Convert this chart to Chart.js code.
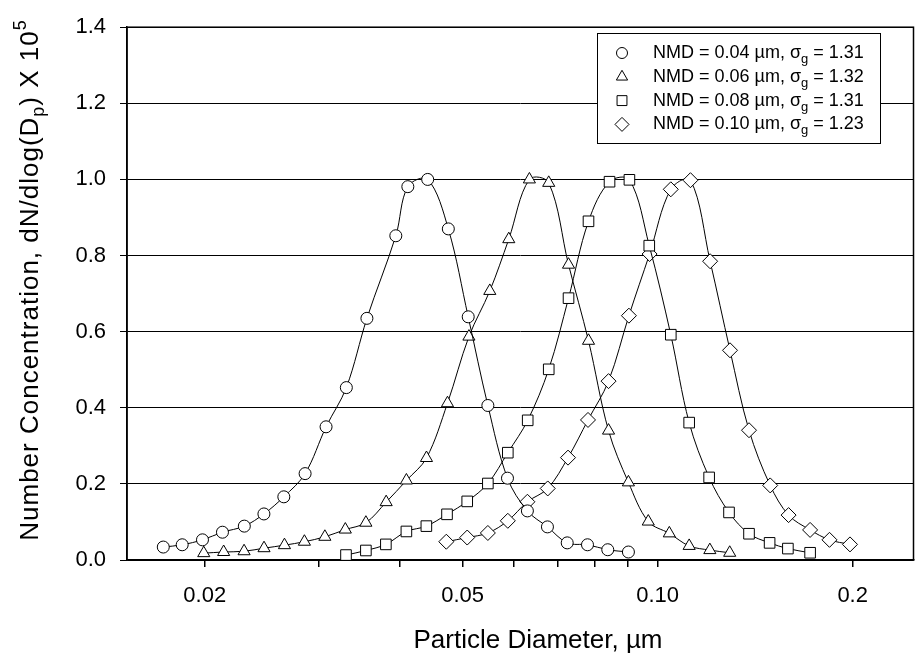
<!DOCTYPE html>
<html><head><meta charset="utf-8">
<script src="https://cdn.jsdelivr.net/npm/chart.js@4/dist/chart.umd.min.js"></script>
<style>html,body{margin:0;padding:0;background:#fff}canvas{display:block}</style>
</head><body>
<canvas id="c" width="922" height="654"></canvas>
<script>
// ---- data ----
const circDiam = [0.01726,0.01846,0.01984,0.02130,0.02302,0.02468,0.02649,0.02857,0.03078,0.03308,0.03559,0.03944,0.04116,0.04417,0.04753,0.05101,0.05470,0.05865,0.06295,0.06760,0.07252,0.07794,0.08376,0.09014];
const circConc = [0.034,0.040,0.053,0.073,0.089,0.121,0.166,0.227,0.350,0.453,0.635,0.852,0.981,1.000,0.870,0.639,0.406,0.215,0.129,0.087,0.045,0.040,0.027,0.021];

const triDiam = [0.01993,0.02139,0.02300,0.02469,0.02655,0.02850,0.03065,0.03296,0.03546,0.03811,0.04095,0.04398,0.04739,0.05114,0.05508,0.05892,0.06340,0.06791,0.07286,0.07822,0.08399,0.09014,0.09673,0.10424,0.11186,0.12039,0.12920];
const triConc = [0.018,0.021,0.023,0.031,0.039,0.048,0.061,0.080,0.098,0.152,0.209,0.268,0.412,0.587,0.707,0.843,1.000,0.991,0.776,0.576,0.340,0.204,0.101,0.070,0.037,0.026,0.019];

const sqDiam = [0.03304,0.03546,0.03807,0.04095,0.04396,0.04731,0.05083,0.05470,0.05872,0.06302,0.06791,0.07286,0.07822,0.08429,0.09046,0.09707,0.10479,0.11186,0.12009,0.12888,0.13837,0.14888,0.15887,0.17192];
const sqConc = [0.013,0.025,0.041,0.075,0.089,0.120,0.154,0.201,0.282,0.367,0.501,0.688,0.890,0.994,0.999,0.826,0.592,0.361,0.217,0.125,0.069,0.045,0.030,0.019];

const diaDiam = [0.04719,0.05083,0.05470,0.05872,0.06295,0.06767,0.07273,0.07808,0.08399,0.09030,0.09718,0.10479,0.11237,0.12051,0.12933,0.13837,0.14919,0.15926,0.17192,0.18417,0.19810];
const diaConc = [0.048,0.059,0.071,0.103,0.153,0.188,0.269,0.368,0.470,0.642,0.804,0.974,0.998,0.785,0.551,0.341,0.196,0.118,0.079,0.053,0.041];

const legendNMD = ['0.04','0.06','0.08','0.10'];
const legendSigma = ['1.31','1.32','1.31','1.23'];

const xTickValues = [0.02,0.03,0.04,0.05,0.06,0.07,0.08,0.09,0.10,0.2];
const xLabelValues = [0.02,0.05,0.10,0.2];
const xLabelTexts = ['0.02','0.05','0.10','0.2'];
const yTickValues = [0.0,0.2,0.4,0.6,0.8,1.0,1.2,1.4];

const xTitle = 'Particle Diameter, \u00b5m';
const yTitleParts = [['Number Concentration, dN/dlog(D',''],['p','sub'],[') X 10',''],['5','sup']];

// ---- chart ----
const FONT = "'Liberation Sans', Arial, Helvetica, sans-serif";
Chart.defaults.font.family = FONT;
Chart.defaults.color = '#000';

function pts(xs, ys){ return xs.map((x,i)=>({x:x, y:ys[i]})); }
function ds(label, xs, ys, style, r){
  return {label, data: pts(xs,ys), pointStyle: style, pointRadius: r, pointHoverRadius: r,
    borderColor:'#000', backgroundColor:'#fff', pointBackgroundColor:'#fff', pointBorderColor:'#000',
    pointBorderWidth:1, borderWidth:1, tension:0.35, fill:false};
}

const frameAndText = {
  id:'frameAndText',
  beforeDatasetsDraw(chart){
    const {ctx, chartArea:a} = chart;
    ctx.save();
    ctx.strokeStyle='#000'; ctx.lineWidth=1.5;
    ctx.strokeRect(a.left, a.top, a.right-a.left, a.bottom-a.top);
    ctx.restore();
  },
  afterDatasetsDraw(chart){
    const ctx = chart.ctx;
    ctx.save();
    // legend
    const bx=597, by=33, bw=283, bh=110;
    ctx.fillStyle='#fff'; ctx.fillRect(bx,by,bw,bh);
    ctx.strokeStyle='#000'; ctx.lineWidth=1; ctx.strokeRect(bx+0.5,by+0.5,bw,bh);
    chart.data.datasets.forEach((d,i)=>{
      const cy = by + 20 + i*23.8;
      ctx.fillStyle='#fff'; ctx.strokeStyle='#000'; ctx.lineWidth=1;
      Chart.helpers.drawPoint(ctx,{pointStyle:d.pointStyle, radius:d.pointRadius-0.5, borderWidth:1, rotation:0}, 622, cy);
      ctx.fillStyle='#000';
      ctx.textBaseline='alphabetic'; ctx.textAlign='left';
      let x = 653, base = cy + 5;
      ctx.font = '18px ' + FONT;
      const s1 = 'NMD = ' + legendNMD[i] + ' \u00b5m, \u03c3';
      ctx.fillText(s1, x, base); x += ctx.measureText(s1).width;
      ctx.font = '13px ' + FONT;
      ctx.fillText('g', x, base + 5); x += ctx.measureText('g').width;
      ctx.font = '18px ' + FONT;
      ctx.fillText(' = ' + legendSigma[i], x, base);
    });
    // x title
    ctx.font = '26px ' + FONT;
    ctx.textAlign='center'; ctx.textBaseline='alphabetic';
    ctx.fillText(xTitle, 538, 648);
    // y title
    const big = '26px ' + FONT, small = '18px ' + FONT;
    try { ctx.letterSpacing = '1px'; } catch(e) {}
    let total = 0;
    yTitleParts.forEach(p=>{ ctx.font = p[1] ? small : big; total += ctx.measureText(p[0]).width; });
    ctx.translate(38, 280 + total/2);
    ctx.rotate(-Math.PI/2);
    ctx.textAlign='left';
    let tx = 0;
    yTitleParts.forEach(p=>{
      ctx.font = p[1] ? small : big;
      const dy = p[1]==='sub' ? 6 : (p[1]==='sup' ? -12 : 0);
      ctx.fillText(p[0], tx, dy);
      tx += ctx.measureText(p[0]).width;
    });
    try { ctx.letterSpacing = '0px'; } catch(e) {}
    ctx.restore();
  }
};

new Chart(document.getElementById('c'), {
  type:'line',
  data:{ datasets:[
    ds('NMD = 0.04 \u00b5m, \u03c3g = 1.31', circDiam, circConc, 'circle', 6),
    ds('NMD = 0.06 \u00b5m, \u03c3g = 1.32', triDiam, triConc, 'triangle', 7),
    ds('NMD = 0.08 \u00b5m, \u03c3g = 1.31', sqDiam, sqConc, 'rect', 7.5),
    ds('NMD = 0.10 \u00b5m, \u03c3g = 1.23', diaDiam, diaConc, 'rectRot', 7.5)
  ]},
  options:{
    responsive:false, animation:false, devicePixelRatio:1,
    layout:{padding:{left:0, top:16, right:6, bottom:0}},
    plugins:{legend:{display:false}, tooltip:{enabled:false}, title:{display:false}},
    scales:{
      x:{
        type:'logarithmic', position:'bottom',
        min:0.015172, max:0.24826,
        afterBuildTicks(scale){ scale.ticks = xTickValues.map(v=>({value:v})); },
        afterFit(scale){ scale.height = 94; },
        ticks:{
          autoSkip:false, maxRotation:0, minRotation:0, padding:16,
          font:{size:22},
          callback(v){ const k = xLabelValues.findIndex(t=>Math.abs(t-v)<1e-9); return k>=0 ? xLabelTexts[k] : ''; }
        },
        grid:{drawOnChartArea:false, drawTicks:true, tickLength:7, color:'#000', lineWidth:1.5},
        border:{display:true, color:'#000', width:1.5}
      },
      y:{
        type:'linear', min:0, max:1.4,
        afterBuildTicks(scale){ scale.ticks = yTickValues.map(v=>({value:v})); },
        afterFit(scale){ scale.width = 127; },
        ticks:{ padding:14, font:{size:22}, callback(v){ return Number(v).toFixed(1); } },
        grid:{color:'#000', lineWidth:1, tickLength:7, drawTicks:true},
        border:{display:true, color:'#000', width:1.5}
      }
    }
  },
  plugins:[frameAndText]
});
</script>
</body></html>
